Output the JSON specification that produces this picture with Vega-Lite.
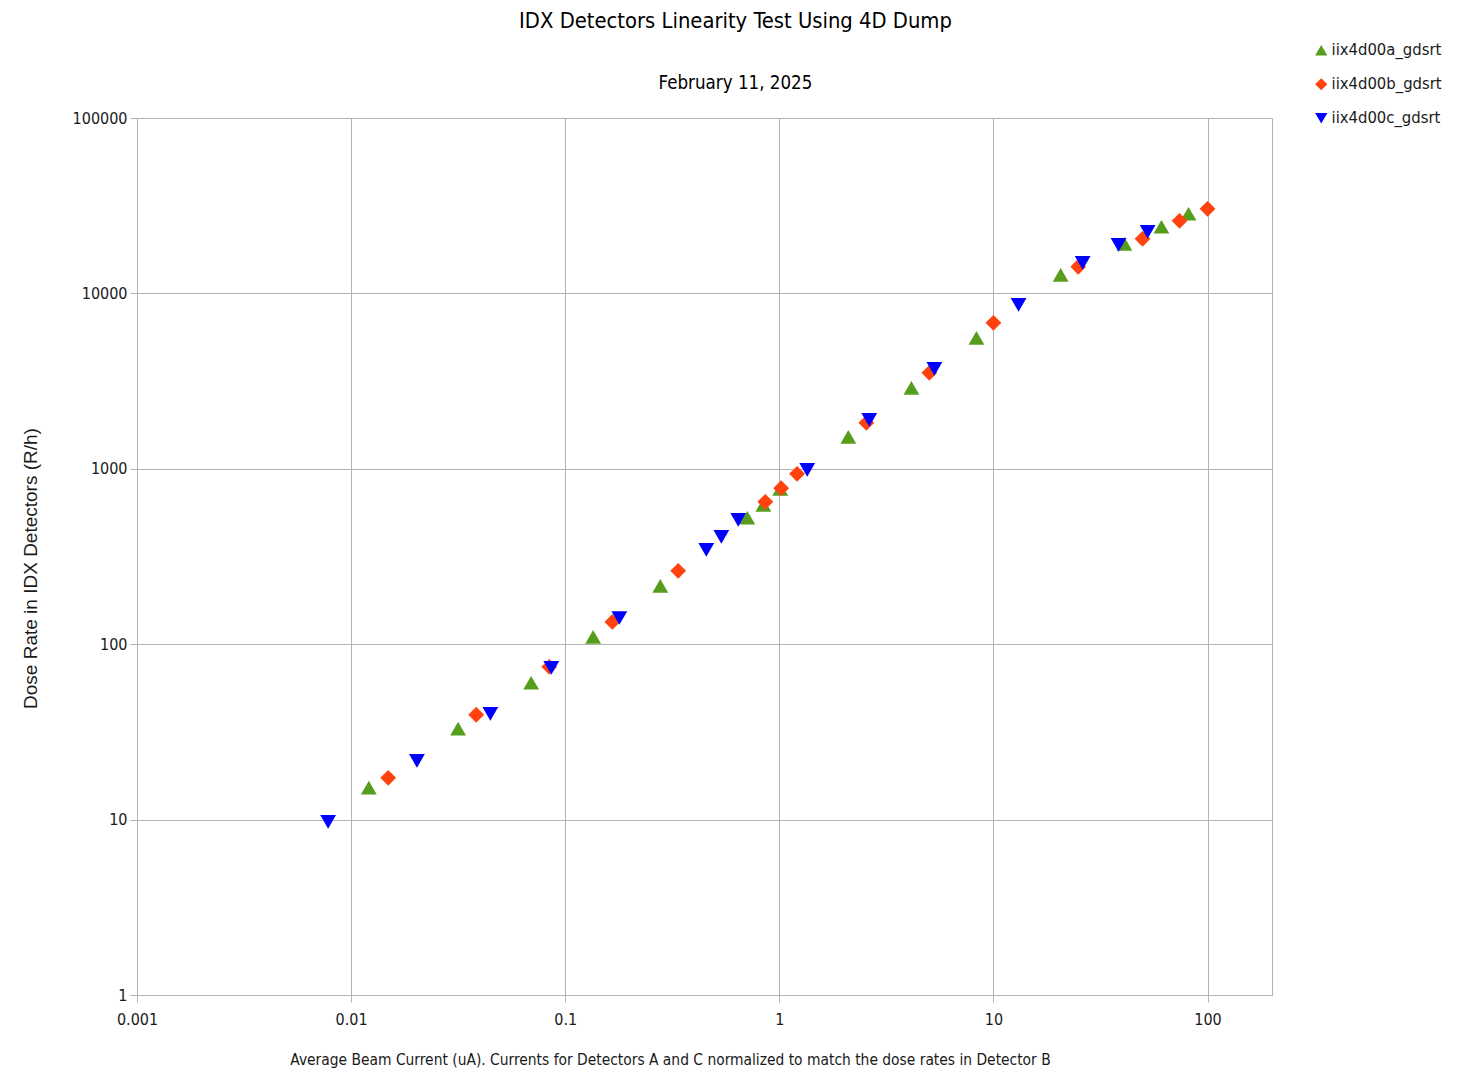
{
  "$schema": "https://vega.github.io/schema/vega-lite/v6.json",
  "width": 1135,
  "height": 877,
  "autosize": "none",
  "padding": {"left": 137, "top": 118, "right": 191, "bottom": 77},
  "background": "white",
  "title": {
    "text": "IDX Detectors Linearity Test Using 4D Dump",
    "subtitle": "February 11, 2025",
    "anchor": "middle",
    "frame": "group",
    "dx": 31,
    "offset": -51,
    "font": "DejaVu Sans Condensed, Liberation Sans, sans-serif",
    "fontSize": 21.8,
    "fontWeight": "normal",
    "color": "#000000",
    "subtitleFont": "DejaVu Sans Condensed, Liberation Sans, sans-serif",
    "subtitleFontSize": 18.6,
    "subtitleColor": "#000000",
    "subtitlePadding": 42
  },
  "config": {
    "view": {"stroke": "#b3b3b3", "strokeWidth": 1},
    "axis": {
      "gridColor": "#b3b3b3",
      "gridWidth": 1,
      "domainColor": "#b3b3b3",
      "tickColor": "#b3b3b3",
      "tickSize": 7,
      "labelFont": "DejaVu Sans Condensed, Liberation Sans, sans-serif",
      "labelFontSize": 16,
      "labelColor": "#1a1a1a",
      "titleColor": "#1a1a1a",
      "titleFontWeight": "normal"
    }
  },
  "data": {
    "values": [
      {"series": "iix4d00a_gdsrt", "current": 0.0121, "dose": 15.2},
      {"series": "iix4d00a_gdsrt", "current": 0.0316, "dose": 33},
      {"series": "iix4d00a_gdsrt", "current": 0.0693, "dose": 60.3},
      {"series": "iix4d00a_gdsrt", "current": 0.135, "dose": 110},
      {"series": "iix4d00a_gdsrt", "current": 0.278, "dose": 215},
      {"series": "iix4d00a_gdsrt", "current": 0.709, "dose": 526},
      {"series": "iix4d00a_gdsrt", "current": 0.842, "dose": 623},
      {"series": "iix4d00a_gdsrt", "current": 1.01, "dose": 769},
      {"series": "iix4d00a_gdsrt", "current": 2.10, "dose": 1522},
      {"series": "iix4d00a_gdsrt", "current": 4.14, "dose": 2896},
      {"series": "iix4d00a_gdsrt", "current": 8.33, "dose": 5584},
      {"series": "iix4d00a_gdsrt", "current": 20.6, "dose": 12760},
      {"series": "iix4d00a_gdsrt", "current": 40.9, "dose": 19180},
      {"series": "iix4d00a_gdsrt", "current": 60.9, "dose": 23990},
      {"series": "iix4d00a_gdsrt", "current": 81.5, "dose": 28460},
      {"series": "iix4d00b_gdsrt", "current": 0.0149, "dose": 17.3},
      {"series": "iix4d00b_gdsrt", "current": 0.0384, "dose": 39.6},
      {"series": "iix4d00b_gdsrt", "current": 0.0842, "dose": 74.3},
      {"series": "iix4d00b_gdsrt", "current": 0.166, "dose": 134},
      {"series": "iix4d00b_gdsrt", "current": 0.337, "dose": 262},
      {"series": "iix4d00b_gdsrt", "current": 0.86, "dose": 648},
      {"series": "iix4d00b_gdsrt", "current": 1.02, "dose": 775},
      {"series": "iix4d00b_gdsrt", "current": 1.21, "dose": 936},
      {"series": "iix4d00b_gdsrt", "current": 2.55, "dose": 1829},
      {"series": "iix4d00b_gdsrt", "current": 5.02, "dose": 3526},
      {"series": "iix4d00b_gdsrt", "current": 10.0, "dose": 6797},
      {"series": "iix4d00b_gdsrt", "current": 24.9, "dose": 14190},
      {"series": "iix4d00b_gdsrt", "current": 49.7, "dose": 20480},
      {"series": "iix4d00b_gdsrt", "current": 74.0, "dose": 25940},
      {"series": "iix4d00b_gdsrt", "current": 100, "dose": 30350},
      {"series": "iix4d00c_gdsrt", "current": 0.00781, "dose": 9.7},
      {"series": "iix4d00c_gdsrt", "current": 0.0203, "dose": 21.6},
      {"series": "iix4d00c_gdsrt", "current": 0.0447, "dose": 40.1},
      {"series": "iix4d00c_gdsrt", "current": 0.0861, "dose": 73.3},
      {"series": "iix4d00c_gdsrt", "current": 0.179, "dose": 141},
      {"series": "iix4d00c_gdsrt", "current": 0.456, "dose": 345},
      {"series": "iix4d00c_gdsrt", "current": 0.536, "dose": 409},
      {"series": "iix4d00c_gdsrt", "current": 0.643, "dose": 512},
      {"series": "iix4d00c_gdsrt", "current": 1.35, "dose": 987},
      {"series": "iix4d00c_gdsrt", "current": 2.63, "dose": 1902},
      {"series": "iix4d00c_gdsrt", "current": 5.30, "dose": 3715},
      {"series": "iix4d00c_gdsrt", "current": 13.1, "dose": 8610},
      {"series": "iix4d00c_gdsrt", "current": 26.1, "dose": 14940},
      {"series": "iix4d00c_gdsrt", "current": 38.4, "dose": 18920},
      {"series": "iix4d00c_gdsrt", "current": 52.5, "dose": 22450}
    ]
  },
  "mark": {"type": "point", "filled": true, "opacity": 1, "size": 250},
  "encoding": {
    "x": {
      "field": "current",
      "type": "quantitative",
      "scale": {"type": "log", "domain": [0.001, 200], "nice": false},
      "axis": {
        "values": [0.001, 0.01, 0.1, 1, 10, 100],
        "format": "~g",
        "labelFlush": false,
        "labelPadding": 9,
        "title": "Average Beam Current (uA). Currents for Detectors A and C normalized to match the dose rates in Detector B",
        "titleFont": "DejaVu Sans Condensed, Liberation Sans, sans-serif",
        "titleFontSize": 15.4,
        "titleX": 533,
        "titleY": 64,
        "titleBaseline": "middle"
      }
    },
    "y": {
      "field": "dose",
      "type": "quantitative",
      "scale": {"type": "log", "domain": [1, 100000], "nice": false},
      "axis": {
        "values": [1, 10, 100, 1000, 10000, 100000],
        "format": "~g",
        "labelFlush": false,
        "labelPadding": 3,
        "title": "Dose Rate in IDX Detectors (R/h)",
        "titleFont": "Liberation Sans",
        "titleFontSize": 19,
        "titleX": -107,
        "titleY": 450,
        "titleBaseline": "middle"
      }
    },
    "color": {
      "field": "series",
      "type": "nominal",
      "scale": {"domain": ["iix4d00a_gdsrt", "iix4d00b_gdsrt", "iix4d00c_gdsrt"], "range": ["#579d1c", "#ff420e", "#0000ff"]},
      "legend": {
        "orient": "none",
        "legendX": 1176,
        "legendY": -76,
        "title": null,
        "labelFont": "DejaVu Sans Condensed, Liberation Sans, sans-serif",
        "labelFontSize": 16.5,
        "labelColor": "#1a1a1a",
        "symbolSize": 150,
        "rowPadding": 17,
        "labelOffset": 2
      }
    },
    "shape": {
      "field": "series",
      "type": "nominal",
      "scale": {"domain": ["iix4d00a_gdsrt", "iix4d00b_gdsrt", "iix4d00c_gdsrt"], "range": ["triangle-up", "diamond", "triangle-down"]}
    }
  }
}
